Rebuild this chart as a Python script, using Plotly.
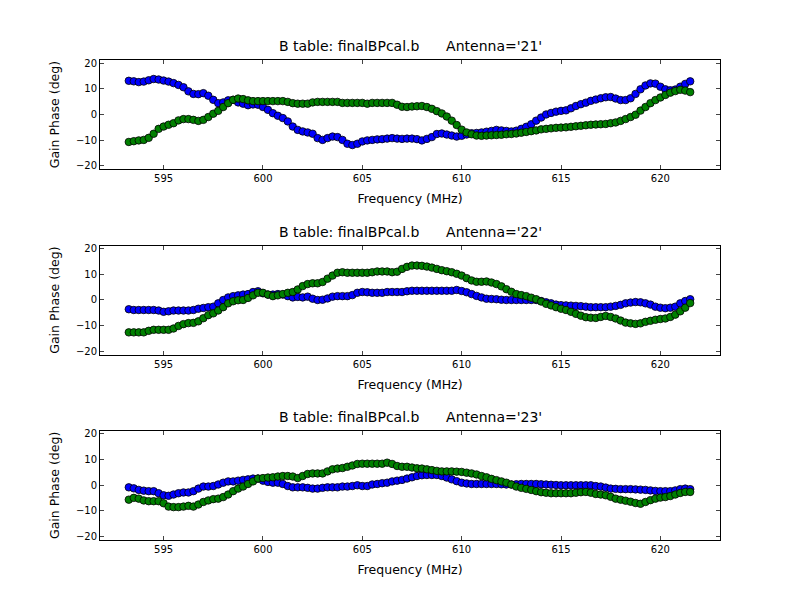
import numpy as np
import plotly.graph_objects as go

# channel frequencies (MHz), uniform 0.25 MHz channel grid
freq = np.round(np.arange(593.25, 621.51, 0.25), 2).tolist()

antennas = ["21", "22", "23"]

# gain phase (deg), polarisation 1 (blue) and 2 (green) per antenna
ant21_pol1 = [13.1, 12.9, 12.6, 12.8, 13.3, 13.8, 13.6, 13.2,
              12.8, 12.2, 11.5, 10.6, 9.0, 8.0, 7.9, 8.3, 7.3, 5.7, 4.4, 4.7, 5.5, 5.7, 4.7, 4.2, 3.6, 3.9, 3.8, 2.9,
              1.8, 0.5, -0.5, -1.4, -2.7, -4.7, -6.0, -6.6, -7.0, -7.5, -9.2, -9.9, -9.2, -8.6, -8.8, -9.9, -11.4, -11.9, -11.4, -10.5,
              -10.1, -9.9, -9.7, -9.6, -9.4, -9.2, -9.4, -9.5, -9.4, -9.4, -9.6, -10.1, -9.5, -8.8, -7.6, -7.4, -7.8, -8.2, -8.6, -8.3,
              -7.8, -7.3, -7.2, -7.0, -6.7, -6.4, -6.0, -6.2, -6.4, -6.6, -6.3, -5.6, -4.8, -3.8, -2.4, -1.2, 0.0, 0.6, 1.1, 1.4,
              1.6, 2.4, 3.3, 4.0, 4.6, 5.3, 5.8, 6.3, 6.7, 6.8, 6.2, 5.6, 5.6, 6.3, 8.0, 9.8, 11.3, 12.1, 12.0, 10.8,
              9.8, 9.4, 9.7, 10.8, 11.9, 12.9]
ant21_pol2 = [-10.7, -10.4, -10.1, -9.9, -9.1, -7.5, -5.6, -4.7,
              -4.0, -3.4, -2.3, -1.8, -1.8, -2.1, -2.5, -2.1, -1.0, 0.3, 1.4, 2.9, 4.4, 5.7, 6.2, 6.0, 5.5, 5.2, 5.2, 5.2,
              5.2, 5.2, 5.2, 5.2, 4.9, 4.4, 4.2, 4.2, 4.2, 4.7, 4.9, 4.9, 4.9, 4.9, 4.9, 4.5, 4.5, 4.5, 4.5, 4.5,
              4.2, 4.5, 4.5, 4.5, 4.5, 4.5, 3.8, 3.0, 2.9, 3.1, 3.2, 3.3, 2.9, 2.2, 1.3, 0.4, -0.8, -2.4, -4.1, -5.9,
              -7.0, -7.7, -8.2, -8.3, -8.2, -8.1, -8.0, -7.9, -7.7, -7.6, -7.4, -7.1, -6.8, -6.5, -6.2, -5.8, -5.6, -5.4, -5.2, -5.1,
              -5.0, -4.8, -4.6, -4.4, -4.2, -4.0, -3.9, -3.8, -3.7, -3.4, -3.1, -2.5, -1.8, -1.0, -0.1, 1.5, 2.9, 4.4, 5.6, 6.6,
              7.6, 8.5, 9.1, 9.6, 9.3, 8.7]

ant22_pol1 = [-3.6, -3.9, -3.9, -3.9, -3.9, -3.9, -4.1, -4.6,
              -4.4, -4.1, -4.1, -4.1, -4.1, -3.9, -3.4, -3.1, -2.8, -2.6, -1.3, 0.0, 1.0, 1.5, 1.8, 2.1, 2.3, 3.1, 3.4, 2.6,
              2.1, 2.1, 2.3, 2.1, 1.5, 1.0, 1.2, 1.0, 1.3, 0.5, 0.0, 0.1, 0.6, 1.3, 1.5, 1.5, 1.5, 1.9, 2.8, 3.1,
              3.0, 2.8, 2.8, 2.8, 3.1, 3.1, 3.1, 3.1, 3.4, 3.6, 3.6, 3.6, 3.6, 3.6, 3.6, 3.6, 3.6, 3.6, 3.9, 3.5,
              3.0, 2.3, 1.6, 1.0, 0.5, 0.4, 0.3, 0.1, 0.0, 0.0, 0.0, 0.0, 0.0, 0.0, 0.0, -0.4, -0.9, -1.3, -1.8, -2.0,
              -2.1, -2.2, -2.3, -2.4, -2.6, -2.8, -2.8, -2.8, -2.8, -2.6, -2.3, -1.9, -1.3, -1.0, -0.8, -0.9, -1.3, -1.8, -2.6, -3.0,
              -3.2, -3.0, -2.6, -1.3, -0.4, 0.3]
ant22_pol2 = [-12.6, -12.6, -12.6, -12.6, -12.0, -11.6, -11.6, -11.6,
              -11.6, -11.1, -10.1, -9.4, -9.0, -8.9, -8.3, -7.1, -5.9, -5.2, -4.1, -2.8, -1.3, -0.5, -0.1, 0.0, 0.8, 1.8, 2.8, 2.8,
              2.1, 1.5, 1.8, 2.3, 2.8, 3.1, 4.1, 5.4, 6.2, 6.5, 6.5, 7.0, 8.3, 9.5, 10.6, 10.8, 10.6, 10.6, 10.6, 10.6,
              10.6, 10.8, 11.1, 11.1, 11.1, 10.8, 11.0, 12.1, 12.9, 13.4, 13.4, 13.3, 13.0, 12.6, 12.1, 11.6, 11.2, 10.8, 10.2, 9.5,
              8.5, 7.6, 7.1, 7.1, 7.2, 6.8, 6.2, 5.3, 4.2, 3.2, 2.3, 1.9, 1.5, 0.9, 0.3, -0.6, -1.5, -2.1, -2.8, -3.4,
              -3.9, -4.6, -5.4, -6.1, -6.7, -6.9, -7.0, -6.6, -6.2, -6.6, -7.2, -8.0, -8.8, -9.1, -9.3, -9.1, -8.5, -8.1, -7.7, -7.4,
              -7.2, -6.6, -5.7, -4.4, -3.0, -1.2]

ant23_pol1 = [-0.8, -1.2, -1.8, -2.1, -2.3, -2.3, -3.1, -3.9,
              -4.1, -3.6, -3.1, -2.8, -2.8, -2.3, -1.3, -0.5, -0.5, -0.3, 0.3, 1.0, 1.5, 1.5, 1.8, 2.1, 2.3, 2.6, 2.6, 1.8,
              1.3, 1.0, 1.0, 0.5, -0.3, -0.8, -0.8, -0.8, -1.0, -1.3, -1.3, -1.0, -0.8, -0.8, -0.8, -0.5, -0.5, -0.3, 0.0, -0.3,
              -0.3, 0.3, 0.5, 0.8, 1.0, 1.5, 1.8, 2.1, 2.6, 3.1, 3.6, 3.9, 4.0, 4.0, 4.0, 3.6, 3.0, 2.3, 1.6, 1.0,
              0.7, 0.5, 0.5, 0.5, 0.5, 0.5, 0.5, 0.4, 0.3, 0.3, 0.4, 0.5, 0.5, 0.5, 0.5, 0.4, 0.3, 0.2, 0.1, 0.0,
              0.0, 0.0, 0.0, 0.0, 0.0, 0.0, -0.3, -0.5, -0.9, -1.3, -1.4, -1.5, -1.5, -1.5, -1.6, -1.7, -1.8, -2.0, -2.2, -2.3,
              -2.3, -2.3, -2.0, -1.5, -1.3, -1.5]
ant23_pol2 = [-5.6, -4.9, -5.2, -5.9, -6.2, -6.2, -6.2, -7.0,
              -8.3, -8.5, -8.5, -8.3, -8.0, -8.3, -7.5, -6.5, -5.9, -5.4, -5.2, -4.6, -3.6, -2.3, -1.3, -0.5, 0.5, 1.5, 2.6, 2.8,
              3.0, 3.1, 3.4, 3.6, 3.6, 3.4, 2.8, 3.6, 4.4, 4.6, 4.6, 4.6, 5.4, 6.2, 6.5, 6.7, 7.2, 7.7, 8.3, 8.4,
              8.4, 8.4, 8.4, 8.4, 8.8, 8.3, 7.5, 7.2, 7.2, 6.9, 6.6, 6.5, 6.2, 5.9, 5.6, 5.4, 5.4, 5.4, 5.3, 5.2,
              4.9, 4.6, 4.2, 3.6, 3.1, 2.5, 2.0, 1.5, 1.0, 0.3, -0.5, -1.0, -1.4, -1.8, -2.3, -2.7, -2.9, -3.1, -3.1, -3.1,
              -3.1, -3.1, -2.9, -2.7, -2.6, -2.9, -3.4, -3.6, -3.9, -4.5, -5.2, -5.6, -6.0, -6.4, -6.9, -7.2, -6.5, -5.8, -5.2, -4.8,
              -4.6, -4.2, -3.6, -3.0, -2.6, -2.6]

pol1 = [ant21_pol1, ant22_pol1, ant23_pol1]
pol2 = [ant21_pol2, ant22_pol2, ant23_pol2]

font = "DejaVu Sans"
domains = [[0.7725, 1.0], [0.386, 0.6135], [0.0, 0.2275]]

fig = go.Figure()
# page body adds 8px offset, so margins are trimmed on left/top
layout = dict(
    width=800, height=600,
    paper_bgcolor="white", plot_bgcolor="white",
    margin=dict(l=92, r=88, t=52, b=68),
    showlegend=False,
    font=dict(family=font, color="black", size=10),
)
annotations = []

for i in range(3):
    n = "" if i == 0 else str(i + 1)
    for ys, col in [(pol1[i], "#0000ff"), (pol2[i], "#008000")]:
        fig.add_trace(go.Scatter(
            x=freq, y=ys, mode="markers",
            xaxis="x" + n, yaxis="y" + n,
            marker=dict(size=7.5, color=col, line=dict(color="black", width=0.8)),
        ))
    layout["xaxis" + n] = dict(
        domain=[0, 1], anchor="y" + n, range=[591.8, 623.0],
        tickvals=[595, 600, 605, 610, 615, 620],
        ticks="inside", ticklen=4, mirror="allticks", showline=True,
        linecolor="black", linewidth=1, showgrid=False, zeroline=False,
        tickfont=dict(size=10),
        title=dict(text="Frequency (MHz)", font=dict(size=12.5), standoff=11),
    )
    layout["yaxis" + n] = dict(
        domain=domains[i], anchor="x" + n, range=[-21.3, 21.2],
        tickvals=[-20, -10, 0, 10, 20],
        ticks="inside", ticklen=4, mirror="allticks", showline=True,
        linecolor="black", linewidth=1, showgrid=False, zeroline=False,
        tickfont=dict(size=10),
        title=dict(text="Gain Phase (deg)", font=dict(size=12.5), standoff=13),
    )
    annotations.append(dict(
        text="B table: finalBPcal.b" + "\u00a0" * 6 + "Antenna='" + antennas[i] + "'",
        xref="paper", yref="paper", x=0.5, y=domains[i][1],
        xanchor="center", yanchor="bottom", yshift=4, showarrow=False,
        font=dict(size=14),
    ))

layout["annotations"] = annotations
fig.update_layout(**layout)
fig.write_html("out.html")
